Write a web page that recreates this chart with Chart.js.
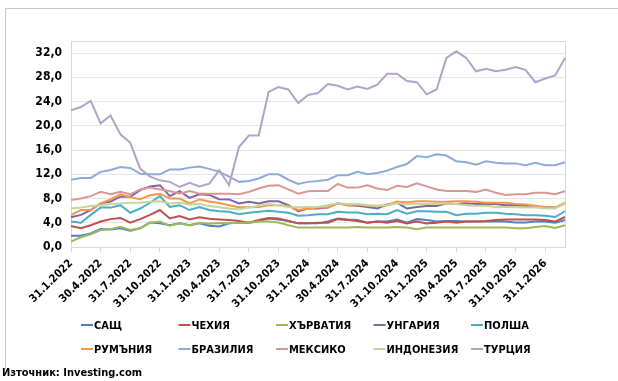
<!DOCTYPE html>
<html>
<head>
<meta charset="utf-8">
<script src="https://cdn.jsdelivr.net/npm/chart.js@4.4.1/dist/chart.umd.min.js"></script>
<style>
  html, body { margin: 0; padding: 0; background: #fff; }
  #wrap { position: relative; width: 618px; height: 381px; overflow: hidden; }
  #frame { position: absolute; left: 5px; top: 8px; width: 640px; height: 360px;
           border-left: 1px solid #c8c8c8; border-top: 1px solid #c8c8c8; }
  #chart { position: absolute; left: 0; top: 0; }
  #source { position: absolute; left: 2px; top: 366px; font: bold 11px 'DejaVu Sans Condensed', 'Open Sans', sans-serif; color: #000; }
</style>
</head>
<body>
<div id="wrap">
  <div id="frame"></div>
  <canvas id="chart" width="618" height="381"></canvas>
  <div id="source">Източник: Investing.com</div>
</div>
<script>
const categories = [
  '31.1.2022','28.2.2022','31.3.2022','30.4.2022','31.5.2022','30.6.2022','31.7.2022','31.8.2022','30.9.2022','31.10.2022','30.11.2022','31.12.2022',
  '31.1.2023','28.2.2023','31.3.2023','30.4.2023','31.5.2023','30.6.2023','31.7.2023','31.8.2023','30.9.2023','31.10.2023','30.11.2023','31.12.2023',
  '31.1.2024','29.2.2024','31.3.2024','30.4.2024','31.5.2024','30.6.2024','31.7.2024','31.8.2024','30.9.2024','31.10.2024','30.11.2024','31.12.2024',
  '31.1.2025','28.2.2025','31.3.2025','30.4.2025','31.5.2025','30.6.2025','31.7.2025','31.8.2025','30.9.2025','31.10.2025','30.11.2025','31.12.2025',
  '31.1.2026','28.2.2026','31.3.2026'
];

const usa = [1.85,1.85,2.25,2.95,2.9,3.1,2.7,3.1,4.05,3.9,3.6,3.9,3.6,3.9,3.5,3.4,3.9,4.0,4.0,4.3,4.7,4.55,4.3,3.9,3.9,3.9,4.2,4.7,4.55,4.45,4.0,4.2,4.2,4.55,4.0,4.6,4.45,4.2,4.3,4.3,4.2,4.2,4.2,4.2,4.2,4.05,4.05,4.2,4.2,4.0,4.45];
const czech = [3.45,3.1,3.6,4.2,4.6,4.8,4.0,4.6,5.3,6.1,4.7,5.1,4.55,4.9,4.65,4.55,4.45,4.3,4.0,4.45,4.8,4.7,4.3,3.9,3.9,4.0,4.0,4.6,4.45,4.3,4.0,4.2,4.0,4.3,3.9,4.2,3.9,4.0,4.2,4.0,4.2,4.2,4.3,4.45,4.55,4.55,4.55,4.55,4.45,4.2,4.95];
const croatia = [0.9,1.6,2.1,2.8,2.95,3.35,2.8,3.1,4.0,4.2,3.5,3.9,3.6,4.0,3.85,3.95,3.9,4.0,4.0,4.2,4.2,4.05,3.6,3.2,3.2,3.2,3.2,3.2,3.2,3.3,3.2,3.2,3.2,3.3,3.2,2.95,3.2,3.2,3.2,3.2,3.2,3.2,3.2,3.2,3.2,3.1,3.1,3.3,3.45,3.15,3.6];
const hungary = [4.9,5.3,6.1,7.2,7.5,8.3,8.3,9.4,10.0,10.2,8.4,9.2,8.1,8.7,8.6,7.9,7.85,7.2,7.45,7.2,7.55,7.55,6.9,5.9,6.35,6.35,6.5,7.2,6.9,6.8,6.6,6.35,7.0,7.3,6.35,6.6,6.75,6.75,7.2,7.1,7.2,7.1,7.1,7.1,6.9,6.9,6.8,6.6,6.55,6.5,7.2];
const poland = [4.2,4.0,5.3,6.5,6.5,6.9,5.65,6.35,7.3,8.4,6.6,6.9,6.1,6.6,6.1,5.9,5.8,5.4,5.65,5.8,6.0,5.8,5.65,5.15,5.25,5.4,5.4,5.8,5.7,5.7,5.4,5.5,5.4,6.1,5.5,5.9,5.9,5.8,5.8,5.25,5.5,5.5,5.65,5.65,5.5,5.4,5.25,5.25,5.15,4.95,5.9];
const romania = [5.3,6.1,6.1,7.2,7.85,8.7,8.2,7.9,8.55,8.8,8.0,8.0,7.2,7.85,7.5,7.25,6.9,6.55,6.55,6.6,6.9,6.9,6.75,6.1,6.35,6.5,6.5,7.2,6.9,7.0,6.8,6.8,6.9,7.5,7.35,7.55,7.55,7.45,7.45,7.55,7.55,7.45,7.3,7.3,7.3,7.1,7.0,6.8,6.6,6.5,7.3];
const brazil = [11.1,11.4,11.4,12.4,12.7,13.2,13.05,12.1,12.0,12.0,12.8,12.8,13.1,13.3,12.9,12.4,11.6,10.75,10.9,11.3,12.0,12.0,11.1,10.4,10.75,10.9,11.1,11.85,11.85,12.4,12.0,12.2,12.6,13.2,13.7,15.0,14.8,15.3,15.1,14.15,14.0,13.6,14.15,13.9,13.8,13.8,13.5,13.9,13.5,13.5,14.0];
const mexico = [7.75,8.0,8.4,9.1,8.7,9.1,8.7,9.5,9.8,9.5,9.25,8.8,9.25,8.8,8.8,8.8,8.8,8.7,9.1,9.65,10.1,10.2,9.5,8.8,9.2,9.25,9.25,10.4,9.8,9.8,10.2,9.65,9.4,10.1,9.9,10.5,10.0,9.5,9.25,9.25,9.25,9.1,9.5,8.95,8.6,8.7,8.7,8.95,8.95,8.7,9.2];
const indonesia = [6.35,6.5,6.75,6.9,7.1,7.2,7.3,7.3,7.45,7.55,7.2,7.3,7.0,7.1,6.75,6.55,6.35,6.25,6.5,6.8,7.1,6.9,6.6,6.55,6.6,6.6,6.9,7.2,7.1,7.1,6.9,6.75,6.9,7.2,7.0,7.1,7.1,7.1,7.2,7.1,6.9,6.8,6.8,6.6,6.6,6.55,6.5,6.55,6.35,6.35,7.2];
const turkey = [22.55,23.1,24.1,20.4,21.7,18.6,17.2,12.95,11.6,11.0,10.75,9.9,10.6,10.0,10.45,12.65,10.2,16.5,18.4,18.4,25.6,26.4,26.0,23.75,25.1,25.4,26.9,26.6,26.0,26.5,26.1,26.8,28.6,28.6,27.4,27.2,25.2,26.0,31.2,32.3,31.2,29.0,29.4,29.0,29.25,29.7,29.25,27.2,27.8,28.3,31.2];

const seriesNames = ['САЩ','ЧЕХИЯ','ХЪРВАТИЯ','УНГАРИЯ','ПОЛША','РУМЪНИЯ','БРАЗИЛИЯ','МЕКСИКО','ИНДОНЕЗИЯ','ТУРЦИЯ'];
const seriesData = [usa, czech, croatia, hungary, poland, romania, brazil, mexico, indonesia, turkey];
const seriesColors = ['#4f81bd','#c0504d','#9bbb59','#8064a2','#4bacc6','#f79646','#8eaadb','#d99694','#c3d69b','#b3a2c7'];
const yTicks = [0, 4, 8, 12, 16, 20, 24, 28, 32];

const FONT = "'DejaVu Sans Condensed', 'Open Sans', sans-serif";

// plot area box (top and right edges, like Excel)
const plotBorder = {
  id: 'plotBorder',
  beforeDatasetsDraw(chart) {
    const a = chart.chartArea;
    const c = chart.ctx;
    c.save();
    c.strokeStyle = '#d9d9d9';
    c.lineWidth = 1;
    c.strokeRect(Math.round(a.left) + 0.5, Math.round(a.top) + 0.5,
                 Math.round(a.right - a.left), Math.round(a.bottom - a.top));
    c.restore();
  }
};

// legend in a 5-column grid
const gridLegend = {
  id: 'gridLegend',
  afterDraw(chart) {
    const c = chart.ctx;
    c.save();
    c.font = 'bold 11px ' + FONT;
    c.textBaseline = 'middle';
    chart.data.datasets.forEach((ds, i) => {
      const col = i % 5, row = Math.floor(i / 5);
      const x = 81 + col * 97.5;
      const y = 325 + row * 24;
      c.strokeStyle = ds.borderColor;
      c.lineWidth = 2;
      c.beginPath();
      c.moveTo(x, y);
      c.lineTo(x + 12, y);
      c.stroke();
      c.fillStyle = '#000';
      c.fillText(ds.label, x + 13, y + 1);
    });
    c.restore();
  }
};

new Chart(document.getElementById('chart'), {
  type: 'line',
  data: {
    labels: categories,
    datasets: seriesNames.map((name, i) => ({
      label: name,
      data: seriesData[i],
      borderColor: seriesColors[i],
      backgroundColor: seriesColors[i],
      borderWidth: 2,
      pointRadius: 0,
      tension: 0,
      fill: false,
      order: seriesNames.length - 1 - i
    }))
  },
  options: {
    responsive: false,
    animation: false,
    devicePixelRatio: 1,
    layout: { padding: { left: 0, top: 41, right: 53, bottom: 0 } },
    plugins: {
      legend: { display: false },
      tooltip: { enabled: false }
    },
    scales: {
      x: {
        offset: false,
        grid: { drawOnChartArea: false, drawTicks: true, tickLength: 5, color: '#d9d9d9' },
        border: { color: '#d9d9d9' },
        ticks: {
          autoSkip: false,
          maxRotation: 45,
          minRotation: 45,
          padding: 5,
          color: '#000',
          font: { family: FONT, size: 11, weight: 'bold' },
          callback: function(v, i) { return i % 3 === 0 ? categories[i] : null; }
        },
        afterFit: s => { s.height = 134; }
      },
      y: {
        min: 0,
        max: 34,
        afterBuildTicks: s => { s.ticks = yTicks.map(v => ({ value: v })); },
        grid: { drawTicks: false, color: '#e6e6e6' },
        border: { color: '#d9d9d9' },
        ticks: {
          padding: 9,
          color: '#000',
          font: { family: FONT, size: 12, weight: 'bold' },
          callback: v => v.toFixed(1).replace('.', ',')
        },
        afterFit: s => { s.width = 71; }
      }
    }
  },
  plugins: [plotBorder, gridLegend]
});
</script>
</body>
</html>
